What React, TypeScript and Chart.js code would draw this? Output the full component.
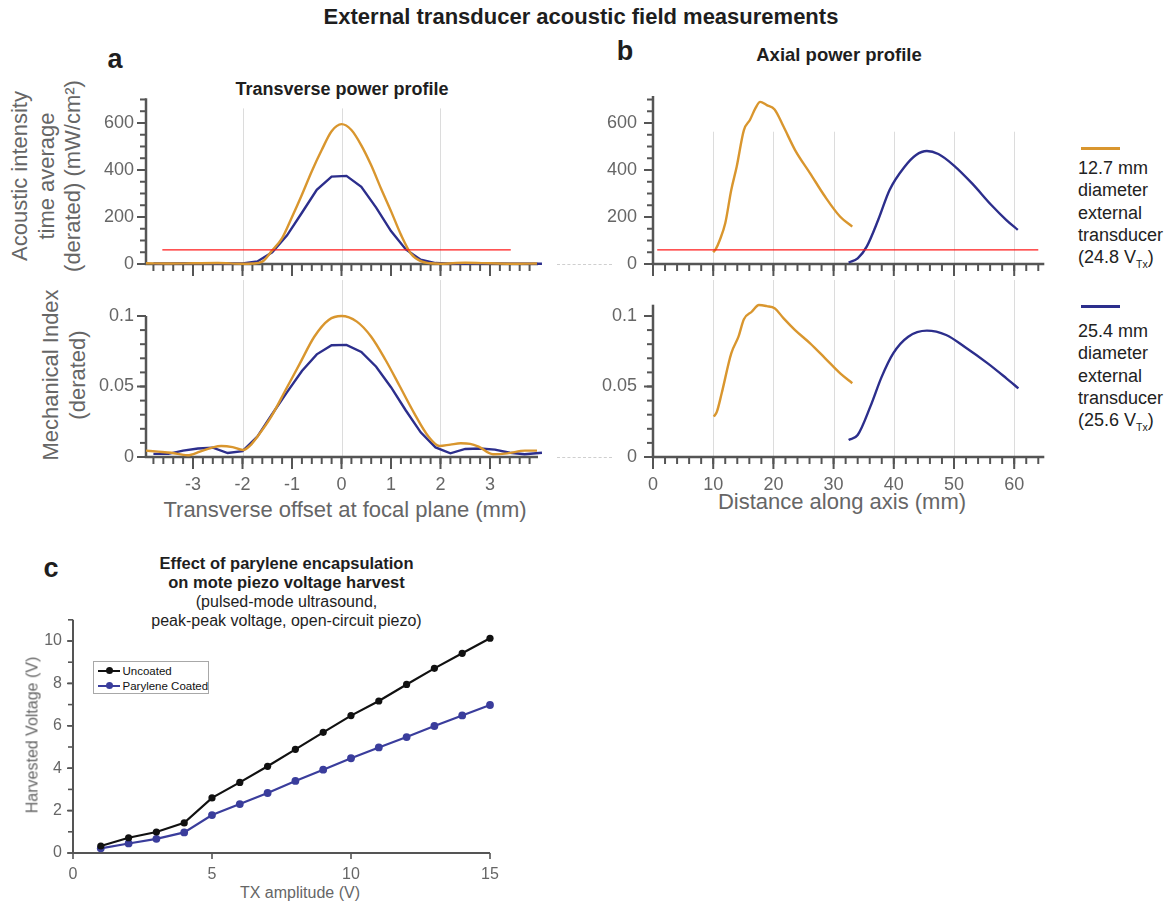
import React, { useEffect, useRef } from "react";
import { Chart, registerables } from "chart.js";
Chart.register(...registerables);

const FONT = '"Liberation Sans", Arial, Helvetica, sans-serif';
const ORANGE = "#d9962e";
const NAVY = "#2c2e8c";
const RED = "#ff1a1a";
const AXIS = "#555555";
const TICKTXT = "#666666";
const TITLE = "#1e1e1e";

// ---------- Panel a : transverse profile ----------
const aTopOrangeX = [-3.95, -3.5, -3.0, -2.5, -2.0, -1.8, -1.6, -1.4, -1.2, -1.0, -0.8, -0.6, -0.4, -0.2, 0, 0.2, 0.4, 0.6, 0.8, 1.0, 1.2, 1.4, 1.6, 1.8, 2.0, 2.5, 3.0, 3.5, 3.95];
const aTopOrangeY = [3, 2, 3, 4, 1, 2, 10, 58, 110, 200, 295, 395, 485, 565, 595, 570, 505, 420, 320, 225, 125, 45, 12, 3, 1, 5, 3, 1, 2];
const aBlueX = [-3.8, -3.5, -3.2, -2.9, -2.6, -2.3, -2.0, -1.7, -1.4, -1.1, -0.8, -0.5, -0.2, 0.1, 0.4, 0.7, 1.0, 1.3, 1.6, 1.9, 2.2, 2.5, 2.8, 3.1, 3.4, 3.7, 4.05];
const aTopBlueY = [2, 2, 3, 3, 3, 2, 2, 11, 50, 122, 218, 316, 372, 375, 328, 240, 140, 62, 18, 4, 1, 2, 2, 2, 1, 1, 1];
const aBotOrangeX = [-3.95, -3.7, -3.44, -3.11, -2.86, -2.6, -2.43, -2.2, -1.99, -1.85, -1.7, -1.42, -1.13, -0.84, -0.55, -0.26, 0, 0.31, 0.6, 0.89, 1.18, 1.47, 1.76, 1.98, 2.2, 2.41, 2.6, 2.77, 3.06, 3.35, 3.71, 3.95];
const aBotOrangeY = [0.0045, 0.0038, 0.003, 0.0012, 0.0038, 0.0068, 0.0078, 0.007, 0.005, 0.008, 0.0144, 0.0286, 0.0475, 0.0664, 0.0853, 0.0972, 0.1, 0.096, 0.0853, 0.0688, 0.05, 0.031, 0.0144, 0.0078, 0.0088, 0.0097, 0.0093, 0.0073, 0.002, 0.0026, 0.0045, 0.0045];
const aBotBlueY = [0.0022, 0.0022, 0.0045, 0.006, 0.0066, 0.0028, 0.0042, 0.0145, 0.0305, 0.046, 0.061, 0.0728, 0.0793, 0.0795, 0.0745, 0.064, 0.0495, 0.033, 0.0175, 0.0068, 0.0026, 0.0057, 0.006, 0.0052, 0.003, 0.002, 0.003];
const aRedX = [-3.62, 3.42];
const limitY = [60, 60];
const aXLabels = [-3, -2, -1, 0, 1, 2, 3];
const aGridX = [-2, 0, 2];

// ---------- Panel b : axial profile ----------
const bTopOrangeX = [10.0, 10.4, 11.1, 12.0, 13.0, 13.9, 15.1, 16.1, 17.0, 17.8, 18.9, 20.2, 21.7, 23.6, 26.1, 28.6, 31.1, 33.1];
const bTopOrangeY = [50, 62, 102, 173, 315, 414, 570, 613, 662, 690, 676, 658, 584, 485, 386, 286, 201, 159];
const bTopBlueX = [32.5, 34.0, 35.5, 37.4, 39.3, 41.8, 43.7, 45.5, 47.4, 49.9, 53.0, 56.2, 58.7, 60.6];
const bTopBlueY = [6, 24, 74, 187, 315, 414, 464, 481, 468, 421, 343, 251, 187, 145];
const bBotOrangeX = [10.1, 10.6, 11.4, 13.0, 14.2, 15.1, 16.4, 17.6, 18.9, 20.2, 21.7, 23.6, 26.1, 28.6, 31.1, 33.1];
const bBotOrangeY = [0.0286, 0.032, 0.045, 0.0735, 0.0853, 0.0977, 0.103, 0.1078, 0.107, 0.1055, 0.0983, 0.09, 0.0806, 0.07, 0.0593, 0.0523];
const bBotBlueX = [32.5, 34.0, 36.1, 38.0, 39.9, 42.4, 45.5, 48.7, 51.8, 55.6, 58.7, 60.7];
const bBotBlueY = [0.012, 0.0156, 0.0357, 0.057, 0.0735, 0.0853, 0.0896, 0.0865, 0.078, 0.0664, 0.0558, 0.0487];
const bRedX = [0.7, 64];
const bXLabels = [0, 10, 20, 30, 40, 50, 60];
const bGridX = [10, 20, 30, 40, 50, 60];

const intensityYLabels = [0, 200, 400, 600];
const miYLabels = [0, 0.05, 0.1];

// ---------- Panel c : parylene ----------
const cTx = [1, 2, 3, 4, 5, 6, 7, 8, 9, 10, 11, 12, 13, 14, 15];
const cUncoated = [0.33, 0.72, 0.99, 1.42, 2.6, 3.33, 4.09, 4.89, 5.69, 6.48, 7.17, 7.95, 8.71, 9.42, 10.13];
const cCoated = [0.22, 0.45, 0.67, 0.97, 1.79, 2.31, 2.83, 3.4, 3.93, 4.47, 4.98, 5.47, 5.99, 6.49, 6.98];
const cXLabels = [0, 5, 10, 15];
const cYLabels = [0, 2, 4, 6, 8, 10];

const pts = (xs: number[], ys: number[]) => xs.map((x, i) => ({ x, y: ys[i] }));
function range(a: number, b: number, step: number) {
  const out: number[] = [];
  const n = Math.round((b - a) / step);
  for (let i = 0; i <= n; i++) out.push(+(a + i * step).toFixed(6));
  return out;
}

type TickGroup = { values: number[]; len: number };
type Deco = {
  vgrid?: { values: number[]; top: number };
  xTicks: TickGroup[];
  yTicks: TickGroup[];
  axisWidth: number;
  tickWidth: number;
};

function makeDeco(d: Deco) {
  return {
    id: "deco",
    beforeDatasetsDraw(chart: any) {
      const { ctx, chartArea: ca, scales } = chart;
      ctx.save();
      if (d.vgrid) {
        ctx.strokeStyle = "#dcdcdc";
        ctx.lineWidth = 1;
        const top = scales.y.getPixelForValue(d.vgrid.top);
        d.vgrid.values.forEach((v) => {
          const px = Math.round(scales.x.getPixelForValue(v)) + 0.5;
          ctx.beginPath();
          ctx.moveTo(px, top);
          ctx.lineTo(px, ca.bottom);
          ctx.stroke();
        });
      }
      ctx.strokeStyle = AXIS;
      ctx.lineWidth = d.tickWidth;
      d.xTicks.forEach((g) =>
        g.values.forEach((v) => {
          const px = scales.x.getPixelForValue(v);
          ctx.beginPath();
          ctx.moveTo(px, ca.bottom);
          ctx.lineTo(px, ca.bottom + g.len);
          ctx.stroke();
        })
      );
      d.yTicks.forEach((g) =>
        g.values.forEach((v) => {
          const py = scales.y.getPixelForValue(v);
          ctx.beginPath();
          ctx.moveTo(ca.left, py);
          ctx.lineTo(ca.left - g.len, py);
          ctx.stroke();
        })
      );
      ctx.lineWidth = d.axisWidth;
      ctx.beginPath();
      ctx.moveTo(ca.left - d.axisWidth / 2, ca.bottom);
      ctx.lineTo(ca.right, ca.bottom);
      ctx.stroke();
      ctx.beginPath();
      ctx.moveTo(ca.left, ca.bottom);
      ctx.lineTo(ca.left, ca.top);
      ctx.stroke();
      ctx.restore();
    },
  };
}

type PanelSpec = {
  datasets: any[];
  xMin: number; xMax: number; yMin: number; yMax: number;
  xLabels: number[] | null; yLabels: number[];
  yW: number; xH: number; padT: number; padR: number;
  xPad: number; yPad: number; fontSize: number;
  deco: Deco;
};

function makeConfig(p: PanelSpec): any {
  return {
    type: "line",
    data: { datasets: p.datasets },
    options: {
      responsive: false,
      maintainAspectRatio: false,
      animation: false,
      events: [],
      layout: { padding: { left: 0, right: p.padR, top: p.padT, bottom: 0 } },
      plugins: { legend: { display: false }, tooltip: { enabled: false }, title: { display: false } },
      scales: {
        x: {
          type: "linear",
          min: p.xMin,
          max: p.xMax,
          grid: { display: false, drawTicks: false },
          border: { display: false },
          ticks: {
            display: !!p.xLabels,
            padding: p.xPad,
            autoSkip: false,
            maxRotation: 0,
            color: TICKTXT,
            font: { family: FONT, size: p.fontSize },
            callback: (v: any) => String(v),
          },
          afterBuildTicks: (s: any) => {
            s.ticks = (p.xLabels || []).map((v) => ({ value: v }));
          },
          afterFit: (s: any) => {
            s.height = p.xH;
            s.paddingLeft = 0;
            s.paddingRight = 0;
          },
        },
        y: {
          type: "linear",
          min: p.yMin,
          max: p.yMax,
          grid: { display: false, drawTicks: false },
          border: { display: false },
          ticks: {
            padding: p.yPad,
            autoSkip: false,
            color: TICKTXT,
            font: { family: FONT, size: p.fontSize },
            callback: (v: any) => String(v),
          },
          afterBuildTicks: (s: any) => {
            s.ticks = p.yLabels.map((v) => ({ value: v }));
          },
          afterFit: (s: any) => {
            s.width = p.yW;
            s.paddingTop = 0;
            s.paddingBottom = 0;
          },
        },
      },
    },
    plugins: [makeDeco(p.deco)],
  };
}

const line = (data: any[], color: string, smooth: boolean, width = 2.4) => ({
  data,
  borderColor: color,
  backgroundColor: color,
  borderWidth: width,
  pointRadius: 0,
  fill: false,
  clip: false,
  tension: smooth ? 0.4 : 0,
  cubicInterpolationMode: smooth ? "monotone" : "default",
});

function ChartBox(props: { left: number; top: number; width: number; height: number; spec: PanelSpec }) {
  const ref = useRef<HTMLCanvasElement | null>(null);
  useEffect(() => {
    const chart = new Chart(ref.current as HTMLCanvasElement, makeConfig(props.spec));
    return () => chart.destroy();
  }, []);
  return (
    <canvas
      ref={ref}
      width={props.width}
      height={props.height}
      style={{ position: "absolute", left: props.left, top: props.top, width: props.width, height: props.height }}
    />
  );
}

const aXTicks: TickGroup[] = [
  { values: range(-3.8, 3.8, 0.2), len: 7 },
  { values: aXLabels, len: 12 },
];
const bXTicks: TickGroup[] = [
  { values: range(2, 64, 2), len: 7 },
  { values: bXLabels, len: 12 },
];
const intensityYTicks: TickGroup[] = [
  { values: range(0, 700, 50), len: 6 },
  { values: intensityYLabels, len: 9 },
];
const miYTicks: TickGroup[] = [
  { values: range(0, 0.1, 0.01), len: 6 },
  { values: miYLabels, len: 9 },
];

const specATop: PanelSpec = {
  datasets: [
    line(pts(aRedX, limitY), RED, false, 1.2),
    line(pts(aTopOrangeX, aTopOrangeY), ORANGE, true),
    line(pts(aBlueX, aTopBlueY), NAVY, false),
  ],
  xMin: -3.95, xMax: 3.97, yMin: 0, yMax: 705,
  xLabels: null, yLabels: intensityYLabels,
  yW: 76, xH: 16, padT: 18.3, padR: 20, xPad: 17, yPad: 12, fontSize: 18,
  deco: { vgrid: { values: aGridX, top: 662 }, xTicks: aXTicks, yTicks: intensityYTicks, axisWidth: 2.5, tickWidth: 2 },
};
const specABot: PanelSpec = {
  datasets: [
    line(pts(aBotOrangeX, aBotOrangeY), ORANGE, true),
    line(pts(aBlueX, aBotBlueY), NAVY, false),
  ],
  xMin: -3.95, xMax: 3.97, yMin: 0, yMax: 0.1,
  xLabels: aXLabels, yLabels: miYLabels,
  yW: 76, xH: 43, padT: 46, padR: 20, xPad: 17, yPad: 12, fontSize: 18,
  deco: { vgrid: { values: aGridX, top: 0.1255 }, xTicks: aXTicks, yTicks: miYTicks, axisWidth: 2.5, tickWidth: 2 },
};
const specBTop: PanelSpec = {
  datasets: [
    line(pts(bRedX, limitY), RED, false, 1.2),
    line(pts(bTopOrangeX, bTopOrangeY), ORANGE, true),
    line(pts(bTopBlueX, bTopBlueY), NAVY, true),
  ],
  xMin: 0, xMax: 65, yMin: 0, yMax: 715,
  xLabels: null, yLabels: intensityYLabels,
  yW: 63, xH: 16, padT: 16, padR: 20.7, xPad: 17, yPad: 16, fontSize: 18,
  deco: { vgrid: { values: bGridX, top: 563 }, xTicks: bXTicks, yTicks: intensityYTicks, axisWidth: 2.5, tickWidth: 2 },
};
const specBBot: PanelSpec = {
  datasets: [
    line(pts(bBotOrangeX, bBotOrangeY), ORANGE, true),
    line(pts(bBotBlueX, bBotBlueY), NAVY, true),
  ],
  xMin: 0, xMax: 65, yMin: 0, yMax: 0.108,
  xLabels: bXLabels, yLabels: miYLabels,
  yW: 63, xH: 43, padT: 34.7, padR: 20.7, xPad: 17, yPad: 16, fontSize: 18,
  deco: { vgrid: { values: bGridX, top: 0.1255 }, xTicks: bXTicks, yTicks: miYTicks, axisWidth: 2.5, tickWidth: 2 },
};
const specC: PanelSpec = {
  datasets: [
    { ...line(pts(cTx, cUncoated), "#111111", false, 2.2), pointRadius: 3.6, pointBorderWidth: 0 },
    { ...line(pts(cTx, cCoated), "#3a3d9c", false, 2.2), pointRadius: 3.9, pointBorderWidth: 0 },
  ],
  xMin: 0, xMax: 15, yMin: 0, yMax: 11,
  xLabels: cXLabels, yLabels: cYLabels,
  yW: 53, xH: 27, padT: 19.8, padR: 20, xPad: 12, yPad: 11, fontSize: 16,
  deco: {
    xTicks: [{ values: cXLabels, len: 6 }],
    yTicks: [{ values: range(0, 11, 1), len: 5 }, { values: cYLabels, len: 6 }],
    axisWidth: 2,
    tickWidth: 1.6,
  },
};

function Txt(props: { x: number; y: number; size: number; bold?: boolean; color?: string; align?: "center" | "left"; children: any }) {
  const center = props.align !== "left";
  return (
    <div
      style={{
        position: "absolute",
        left: props.x,
        top: props.y,
        transform: center ? "translate(-50%, -50%)" : "translate(0, -50%)",
        fontSize: props.size,
        fontWeight: props.bold ? "bold" : "normal",
        color: props.color || TITLE,
        whiteSpace: "nowrap",
        lineHeight: 1.15,
        fontFamily: FONT,
      }}
    >
      {props.children}
    </div>
  );
}

function VTxt(props: { x: number; y: number; size: number; lh: number; color?: string; lines: any[] }) {
  return (
    <div
      style={{
        position: "absolute",
        left: props.x,
        top: props.y,
        transform: "translate(-50%, -50%) rotate(-90deg)",
        fontSize: props.size,
        lineHeight: props.lh + "px",
        color: props.color || TICKTXT,
        whiteSpace: "nowrap",
        textAlign: "center",
        fontFamily: FONT,
      }}
    >
      {props.lines.map((l, i) => (
        <div key={i}>{l}</div>
      ))}
    </div>
  );
}

const legendLines1 = ["12.7 mm", "diameter", "external", "transducer"];
const legendLines2 = ["25.4 mm", "diameter", "external", "transducer"];

function RightLegend(props: { lineY: number; textY: number; color: string; lines: string[]; volt: string }) {
  const lh = 22.3;
  return (
    <>
      <div style={{ position: "absolute", left: 1081, top: props.lineY - 1.5, width: 39, height: 3, background: props.color }} />
      {props.lines.map((l, i) => (
        <Txt key={i} x={1078} y={props.textY + i * lh} size={18} align="left" color="#222">
          {l}
        </Txt>
      ))}
      <Txt x={1078} y={props.textY + 4 * lh} size={18} align="left" color="#222">
        ({props.volt} V
        <span style={{ fontSize: 10.5, position: "relative", top: 5 }}>Tx</span>)
      </Txt>
    </>
  );
}

function LegendEntry(props: { y: number; color: string; label: string }) {
  return (
    <>
      <div style={{ position: "absolute", left: 3.5, top: props.y - 1, width: 22.5, height: 2.2, background: props.color }} />
      <div
        style={{
          position: "absolute",
          left: 15.3 - 3.8,
          top: props.y - 3.8,
          width: 7.6,
          height: 7.6,
          borderRadius: "50%",
          background: props.color,
        }}
      />
      <div
        style={{
          position: "absolute",
          left: 28.5,
          top: props.y,
          transform: "translateY(-50%)",
          fontSize: 11.5,
          color: "#111",
          whiteSpace: "nowrap",
          fontFamily: FONT,
        }}
      >
        {props.label}
      </div>
    </>
  );
}

export default function App() {
  return (
    <div
      style={{
        position: "absolute",
        left: 0,
        top: 0,
        width: 1172,
        height: 903,
        background: "#ffffff",
        fontFamily: FONT,
        overflow: "hidden",
      }}
    >
      <Txt x={581} y={17} size={22} bold>
        External transducer acoustic field measurements
      </Txt>
      <Txt x={115} y={60} size={27} bold>
        a
      </Txt>
      <Txt x={625} y={52} size={27} bold>
        b
      </Txt>
      <Txt x={342} y={89} size={18} bold>
        Transverse power profile
      </Txt>
      <Txt x={839} y={55} size={18.5} bold>
        Axial power profile
      </Txt>

      <VTxt x={46.5} y={176} size={22} lh={26.5} lines={["Acoustic intensity", "time average", "(derated) (mW/cm²)"]} />
      <VTxt x={63.5} y={375} size={22} lh={26.5} lines={["Mechanical Index", "(derated)"]} />
      <Txt x={345} y={510} size={22} color={TICKTXT}>
        Transverse offset at focal plane (mm)
      </Txt>
      <Txt x={842} y={502} size={22} color={TICKTXT}>
        Distance along axis (mm)
      </Txt>

      <div style={{ position: "absolute", left: 557, top: 264, width: 55, borderTop: "1px dashed #cfcfcf" }} />
      <div style={{ position: "absolute", left: 557, top: 457, width: 55, borderTop: "1px dashed #cfcfcf" }} />

      <ChartBox left={70} top={80} width={488} height={200} spec={specATop} />
      <ChartBox left={70} top={270} width={488} height={230} spec={specABot} />
      <ChartBox left={590} top={80} width={475} height={200} spec={specBTop} />
      <ChartBox left={590} top={270} width={475} height={230} spec={specBBot} />

      <RightLegend lineY={148} textY={168} color={ORANGE} lines={legendLines1} volt="24.8" />
      <RightLegend lineY={306} textY={331} color={NAVY} lines={legendLines2} volt="25.6" />

      <Txt x={51} y={569} size={27} bold>
        c
      </Txt>
      <Txt x={286.5} y={562.7} size={16.5} bold>
        Effect of parylene encapsulation
      </Txt>
      <Txt x={286.5} y={581.7} size={16.5} bold>
        on mote piezo voltage harvest
      </Txt>
      <Txt x={286.5} y={602} size={16}>
        (pulsed-mode ultrasound,
      </Txt>
      <Txt x={286.5} y={621} size={16}>
        peak-peak voltage, open-circuit piezo)
      </Txt>

      <ChartBox left={20} top={600} width={490} height={280} spec={specC} />

      <VTxt x={32} y={735} size={16} lh={19} lines={["Harvested Voltage (V)"]} />
      <Txt x={300} y={893} size={16} color={TICKTXT}>
        TX amplitude (V)
      </Txt>

      <div
        style={{
          position: "absolute",
          left: 93,
          top: 661,
          width: 116,
          height: 32.5,
          border: "1px solid #a8a8a8",
          background: "#fff",
          boxSizing: "border-box",
        }}
      >
        <LegendEntry y={8.5} color="#111111" label="Uncoated" />
        <LegendEntry y={23.5} color="#3a3d9c" label="Parylene Coated" />
      </div>
    </div>
  );
}
